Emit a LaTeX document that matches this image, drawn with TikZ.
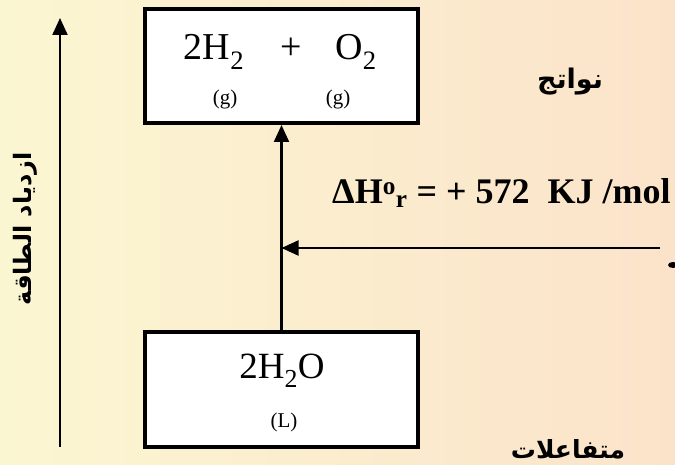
\documentclass[tikz,border=0pt]{standalone}
\usepackage{fontspec}
\setmainfont{Liberation Serif}
\newfontfamily\arabicfont[Script=Arabic]{DejaVu Sans}
\TeXXeTstate=1
\usetikzlibrary{arrows.meta,positioning,calc}
\definecolor{bgleft}{HTML}{FBF6D2}
\definecolor{bgright}{HTML}{FBE3CA}
\newcommand{\fsz}[1]{\fontsize{#1}{#1}\selectfont}

\begin{document}
\begin{tikzpicture}[x=1pt, y=1pt,
    level/.style={draw, line width=4pt, fill=white, minimum width=273pt, inner sep=0pt},
    arr/.style={line width=2.2pt, -{Triangle[length=17pt, width=15pt]}},
    arlabel/.style={font=\arabicfont\bfseries, inner sep=0pt}]
    % Background
    \fill[left color=bgleft, right color=bgright] (0,0) rectangle (675,464);
    \useasboundingbox (0,0) rectangle (675,464);

    % Levels
    \node[level, minimum height=114pt] (prod) at (281.5,398) {};
    \node[level, minimum height=115pt] (react) at (281.5,74.5) {};

    % Products
    \node[anchor=base, inner sep=0pt, font=\fsz{38}] (h2) at (214,404) {2H\textsubscript{2}};
    \node[anchor=base, inner sep=0pt, font=\fsz{38}] (plus) at (291,404) {+};
    \node[anchor=base, inner sep=0pt, font=\fsz{38}] (o2) at (356,404) {O\textsubscript{2}};
    \node[inner sep=0pt, font=\fsz{21}] (g1) at (225,365) {(g)};
    \node[inner sep=0pt, font=\fsz{21}] (g2) at (338,365) {(g)};

    % Reactants
    \node[anchor=base, inner sep=0pt, font=\fsz{37}] (h2o) at (282,85) {2H\textsubscript{2}O};
    \node[inner sep=0pt, font=\fsz{21}] (liq) at (284,42) {(L)};

    % Energy axis
    \coordinate (axbot) at (60,17);
    \coordinate (axtop) at (60,446);
    \draw[arr] (axbot) -- (axtop);
    \node[arlabel, font=\arabicfont\bfseries\fsz{24}, rotate=90] (axlabel) at (25,235) {\beginR ازدياد الطاقة\endR};

    % Enthalpy
    \draw[arr] (react.north) -- (prod.south);
    \coordinate (src) at (660,216);
    \draw[arr] (src) -- (src -| react.north);
    \fill (673,199) ellipse (5 and 3);
    \node[anchor=west, inner sep=0pt, font=\bfseries\fsz{36}] (dh) at (332,271)
        {ΔH\textsuperscript{o}\textsubscript{r} = + 572\ \ KJ /mol};

    % Arabic labels
    \node[arlabel, font=\arabicfont\bfseries\fsz{27}] (prodlabel) at (570,382) {\beginR نواتج\endR};
    \node[arlabel, font=\arabicfont\bfseries\fsz{25}, anchor=south] (reactlabel) at (568,5) {\beginR متفاعلات\endR};
\end{tikzpicture}
\end{document}
